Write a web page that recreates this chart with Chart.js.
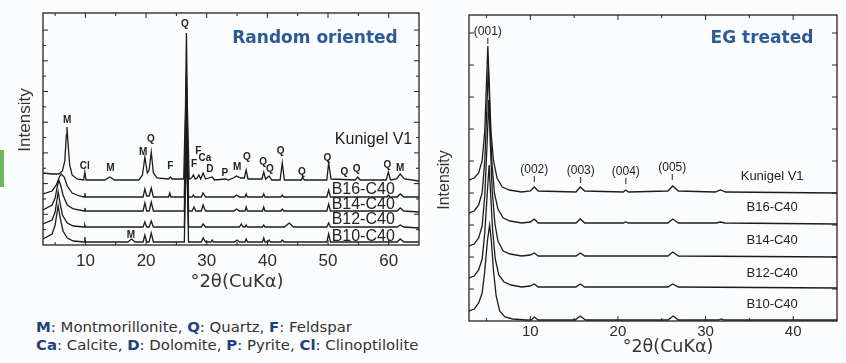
<!DOCTYPE html>
<html lang="en">
<head>
<meta charset="UTF-8">
<title>XRD patterns - random oriented / EG treated</title>
<style>
  body {
    margin: 0;
    width: 846px;
    height: 363px;
    overflow: hidden;
    position: relative;
    background: #fbfcfd;
    font-family: Arial, "Liberation Sans", sans-serif;
  }
  canvas { position: absolute; top: 0; }
  #randomChart { left: 0; }
  #egChart { left: 430px; }
  .note {
    position: absolute;
    left: 36px;
    top: 318px;
    font: 14.9px "DejaVu Sans", sans-serif;
    line-height: 18px;
    color: #333;
    white-space: nowrap;
  }
  .note b { color: #22407a; }
  .tab {
    position: absolute;
    left: 0;
    top: 150px;
    width: 4px;
    height: 37px;
    background: #6cb95a;
  }
</style>
</head>
<body>
<canvas id="randomChart" width="430" height="300"></canvas>
<canvas id="egChart" width="416" height="363"></canvas>
<div class="tab"></div>
<div class="note">
  <b>M</b>: Montmorillonite, <b>Q</b>: Quartz, <b>F</b>: Feldspar<br>
  <b>Ca</b>: Calcite, <b>D</b>: Dolomite, <b>P</b>: Pyrite, <b>Cl</b>: Clinoptilolite
</div>

<script src="https://cdn.jsdelivr.net/npm/chart.js"></script>
<script>
// sample names, top trace first
const sampleNames = ['Kunigel V1', 'B16-C40', 'B14-C40', 'B12-C40', 'B10-C40'];

// x axis tick labels (deg 2theta)
const randomXTicks = [10, 20, 30, 40, 50, 60];
const egXTicks = [10, 20, 30, 40];

// random oriented patterns: [2theta, stacked intensity]
const randomKunigel = [[3,72],[4.5,71],[5.6,71],[6.2,74],[6.6,84],[6.85,110],[6.95,118],[7.1,104],[7.4,80],[7.8,70],[8.6,66],
  [9.7,65],[9.9,73],[10.1,65],[13.2,65],[14.0,68],[14.8,65],[18.8,65],[19.4,70],[19.8,88],[20.2,72],[20.5,75],[20.85,93],
  [21.2,72],[21.8,67],[23.7,66],[24.0,68],[24.3,66],[26.2,66],[26.5,140],[26.65,212],[26.8,140],[27.1,66],[27.5,67],
  [27.8,70],[28.1,66],[28.4,67],[28.7,70],[29.0,66],[29.4,72],[29.8,66],[30.9,68],[31.3,65],[33.1,66],[33.5,65],[34.4,67],
  [34.9,69],[35.6,67],[36.2,67],[36.5,75],[36.8,66],[39.1,66],[39.4,73],[39.7,66],[40.3,69],[40.7,65],[42.1,65],[42.45,82],
  [42.8,65],[45.6,65],[45.8,68],[46.1,65],[49.8,65],[50.1,82],[50.5,66],[54.5,65],[54.9,68],[55.3,65],[59.6,65],[59.95,73],
  [60.3,65],[61.3,66],[61.9,71],[62.6,66],[65,64]];
const randomB16 = [[3,51],[4.5,54],[5.2,60],[5.7,68],[6.0,71],[6.5,68],[7.0,59],[7.8,52],[9,49],[9.8,48],[9.9,52],[10.0,48],
  [19.5,48],[19.8,56],[20.1,49],[20.5,49],[20.85,57],[21.2,48],[23.7,48],[23.9,52],[24.1,48],[26.3,48],[26.5,120],[26.65,170],
  [26.8,120],[27.0,48],[27.6,48],[27.8,50],[28.0,48],[29.1,48],[29.4,52],[29.8,48],[34.5,48],[34.9,50],[35.4,48],[36.3,48],
  [36.5,51],[36.7,48],[39.2,48],[39.4,51],[39.6,48],[42.2,48],[42.45,50],[42.7,48],[49.8,48],[50.1,55],[50.4,48],[59.7,48],
  [59.95,50],[60.2,48],[61.4,48],[61.9,51],[62.5,48],[65,48]];
const randomB14 = [[3,35],[4.5,40],[5.0,47],[5.35,58],[5.6,65],[5.9,60],[6.3,50],[7.0,40],[8,36],[9.8,34],[9.9,37],[10.0,34],
  [19.5,34],[19.8,42],[20.1,34],[20.5,34],[20.85,43],[21.2,34],[26.3,34],[26.5,100],[26.65,140],[26.8,100],[27.0,34],[27.6,34],
  [27.9,38],[28.2,34],[29.1,34],[29.4,40],[29.8,34],[34.5,34],[34.9,36],[35.4,34],[36.3,34],[36.5,38],[36.7,34],[39.2,34],
  [39.4,38],[39.6,34],[42.2,34],[42.45,36],[42.7,34],[49.8,34],[50.1,41],[50.4,34],[61.4,34],[61.9,37],[62.5,34],[65,33]];
const randomB12 = [[3,21],[4.5,25],[5.0,33],[5.3,45],[5.5,53],[5.8,42],[6.2,30],[7,22],[8,19],[9.8,18],[9.9,20],[10,18],
  [19.5,18],[19.8,23],[20.1,18],[20.5,18],[20.85,24],[21.2,18],[26.3,18],[26.5,80],[26.65,110],[26.8,80],[27.0,18],[29.1,18],
  [29.4,21],[29.8,18],[35.4,18],[35.7,21],[36.0,18],[36.3,18],[36.5,20],[36.7,18],[39.2,18],[39.4,20],[39.6,18],[42.8,18],
  [43.6,22],[44.3,18],[49.8,18],[50.1,22],[50.4,18],[61.4,18],[61.9,20],[62.5,18],[65,17]];
const randomB10 = [[3,6],[4.5,11],[5.0,20],[5.3,32],[5.5,39],[5.8,28],[6.3,14],[7.0,7],[8,4],[9.8,3],[9.9,8],[10,3],
  [17.0,3],[17.6,6],[18.2,3],[19.5,3],[19.8,10],[20.1,3],[20.5,3],[20.85,12],[21.2,3],[26.3,3],[26.5,60],[26.65,90],[26.8,60],
  [27.0,3],[29.1,3],[29.4,7],[29.8,3],[30.7,3],[30.9,5],[31.1,3],[34.6,3],[35.0,5],[35.4,3],[36.3,3],[36.5,6],[36.7,3],
  [39.2,3],[39.4,7],[39.6,3],[40.1,3],[40.3,5],[40.5,3],[42.2,3],[42.45,5],[42.7,3],[49.8,3],[50.1,11],[50.4,3],[61.4,3],
  [61.9,6],[62.5,3],[65,3]];

// EG treated patterns
const egKunigel = [[3,141],[3.6,143],[4.1,148],[4.5,160],[4.8,190],[5.0,240],[5.15,275],[5.3,240],[5.5,190],[5.8,160],
  [6.2,143],[6.8,134],[7.6,131],[9,129],[10.0,130],[10.45,134],[10.9,130],[15.2,129],[15.7,134],[16.2,130],[20.6,129],
  [20.9,131],[21.2,129],[25.7,130],[26.25,135],[26.9,130],[31.1,129],[31.7,131],[32.3,129],[45,128]];
const egB16 = [[3,108],[3.6,110],[4.1,116],[4.5,128],[4.8,160],[5.05,215],[5.2,255],[5.35,215],[5.6,160],[5.9,128],
  [6.3,112],[6.9,103],[7.7,100],[9,98],[10,99],[10.45,102],[10.9,98],[15.2,98],[15.7,102],[16.2,98],[20.6,98],[20.9,99],
  [21.2,98],[25.7,98],[26.25,102],[26.9,98],[31.2,98],[31.7,99],[32.2,98],[45,97]];
const egB14 = [[3,75],[3.6,77],[4.1,83],[4.5,95],[4.8,125],[5.1,185],[5.25,221],[5.4,185],[5.65,130],[5.95,98],[6.3,80],
  [6.9,70],[7.7,67],[9,65],[10,66],[10.45,68],[10.9,65],[15.2,65],[15.7,68],[16.2,65],[25.7,65],[26.25,69],[26.9,65],[45,64]];
const egB12 = [[3,43],[3.6,45],[4.1,51],[4.5,62],[4.8,88],[5.1,130],[5.3,156],[5.45,130],[5.7,90],[6.0,62],[6.4,46],
  [7,39],[7.8,36],[9,34],[10,35],[10.45,37],[10.9,34],[15.2,34],[15.7,37],[16.2,34],[25.7,34],[26.25,37],[26.9,34],[45,33]];
const egB10 = [[3,10],[3.6,12],[4.1,18],[4.5,28],[4.8,50],[5.1,80],[5.35,96],[5.55,80],[5.8,50],[6.1,25],[6.5,10],
  [7.1,4],[8,2],[9.5,1],[10.1,1],[10.45,4],[10.9,1],[15.1,1],[15.7,5],[16.3,1],[25.7,1],[26.3,5],[26.9,1],[31.5,1],
  [31.8,2],[32.1,1],[45,1]];

// peak labels [text, 2theta, intensity]
const randomPeakLabels = [['Q',26.4,221],['M',7.0,125],['Cl',9.9,79],['M',14.1,77],['M',19.5,93],['Q',20.8,106],
  ['F',24.0,79],['F',27.9,81],['F',28.6,94],['Ca',29.7,87],['D',30.5,76],['P',33.0,72],['M',35.0,78],['Q',36.6,88],
  ['Q',39.3,83],['Q',40.4,76],['Q',42.2,94],['Q',45.7,73],['Q',49.9,87],['Q',52.7,73],['Q',54.7,76],['Q',59.8,80],
  ['M',61.9,77],['M',17.5,10]];
const egPeakLabels = [['(001)',5.15,289],['(002)',10.45,151],['(003)',15.75,150],['(004)',20.9,149],['(005)',26.2,153]];

// where the sample names sit [2theta, intensity]
const randomNameAt = [[57.5,105],[55.8,55],[55.8,40],[55.8,25],[55.8,8]];
const egNameAt = [[37.6,145],[37.6,114],[37.6,81],[37.6,48],[37.6,17]];

const toXY = pts => pts.map(([x, y]) => ({x, y}));

const decor = {
  id: 'decor',
  afterDraw(chart, args, o) {
    const {ctx, chartArea: a, scales: {x, y}} = chart;
    const line = (x0, y0, x1, y1) => {
      ctx.beginPath(); ctx.moveTo(x0, y0); ctx.lineTo(x1, y1); ctx.stroke();
    };
    ctx.save();
    ctx.strokeStyle = '#222';
    ctx.lineWidth = 1.3;
    ctx.strokeRect(a.left, a.top, a.width, a.height);

    // inward ticks on all four sides
    ctx.lineWidth = 1;
    o.xMajor.forEach(v => {
      const px = x.getPixelForValue(v);
      line(px, a.bottom, px, a.bottom - 5);
      line(px, a.top, px, a.top + 5);
    });
    o.xMinor.forEach(v => {
      const px = x.getPixelForValue(v);
      line(px, a.bottom, px, a.bottom - 3);
      line(px, a.top, px, a.top + 3);
    });
    const half = o.yStep / (o.yMinor ? 2 : 1);
    for (let i = 1; i * half < y.max - 2; i++) {
      const py = y.getPixelForValue(i * half);
      const len = (o.yMinor && i % 2) ? 3 : 5;
      line(a.left, py, a.left + len, py);
      line(a.right, py, a.right - len, py);
    }

    // peak labels
    ctx.fillStyle = '#222';
    ctx.textAlign = 'center';
    ctx.textBaseline = 'middle';
    ctx.font = o.peakFont;
    o.peaks.forEach(([t, vx, vy]) => {
      const px = x.getPixelForValue(vx), py = y.getPixelForValue(vy);
      ctx.fillText(t, px, py);
      if (o.peakTick) line(px, py + 6, px, py + 12);
    });

    // sample names
    ctx.font = o.nameFont;
    sampleNames.forEach((t, i) => {
      const [vx, vy] = o.nameAt[i];
      ctx.fillText(t, x.getPixelForValue(vx), y.getPixelForValue(vy));
    });

    // panel title
    ctx.font = 'bold 17px "DejaVu Sans"';
    ctx.fillStyle = '#2d5a98';
    ctx.fillText(o.title, o.titleAt[0], o.titleAt[1]);

    // axis titles
    ctx.fillStyle = '#333';
    ctx.font = o.xTitleFont;
    ctx.fillText('°2θ(CuKα)', o.xTitleAt[0], o.xTitleAt[1]);
    ctx.font = o.yTitleFont;
    ctx.translate(o.yTitleAt[0], o.yTitleAt[1]);
    ctx.rotate(-Math.PI / 2);
    ctx.fillText('Intensity', 0, 0);
    ctx.restore();
  }
};

function makeChart(id, series, cfg) {
  return new Chart(document.getElementById(id), {
    type: 'line',
    data: {
      datasets: series.map((pts, i) => ({
        label: sampleNames[i],
        data: toXY(pts),
        borderColor: '#1c1c1c',
        borderWidth: 1.3,
        pointRadius: 0,
        tension: 0,
        fill: false
      }))
    },
    options: {
      responsive: false,
      animation: false,
      layout: {padding: cfg.padding},
      plugins: {
        legend: {display: false},
        tooltip: {enabled: false},
        decor: cfg.decor
      },
      scales: {
        x: {
          type: 'linear',
          min: cfg.xMin,
          max: cfg.xMax,
          afterBuildTicks: s => { s.ticks = cfg.xTicks.map(v => ({value: v})); },
          afterFit: s => { s.height = cfg.xHeight; },
          grid: {display: false, drawTicks: false},
          border: {display: false},
          ticks: {
            autoSkip: false,
            maxRotation: 0,
            padding: cfg.tickPad,
            color: '#2b2b2b',
            font: {family: 'Arial', size: cfg.tickSize}
          }
        },
        y: {display: false, min: 0, max: cfg.yMax}
      }
    },
    plugins: [decor]
  });
}

makeChart('randomChart', [randomKunigel, randomB16, randomB14, randomB12, randomB10], {
  padding: {left: 43, top: 13, right: 11, bottom: 0},
  xMin: 3, xMax: 65, xTicks: randomXTicks, xHeight: 55,
  tickPad: 6, tickSize: 17, yMax: 232,
  decor: {
    xMajor: randomXTicks, xMinor: [5, 15, 25, 35, 45, 55],
    yStep: 30.7, yMinor: true,
    peaks: randomPeakLabels, peakFont: 'bold 10px Arial', peakTick: false,
    nameAt: randomNameAt, nameFont: '16px Arial',
    title: 'Random oriented', titleAt: [315, 39],
    xTitleFont: '18px "DejaVu Sans"', xTitleAt: [237, 282],
    yTitleFont: '17px Arial', yTitleAt: [25, 120]
  }
});

makeChart('egChart', [egKunigel, egB16, egB14, egB12, egB10], {
  padding: {left: 39, top: 15, right: 9, bottom: 0},
  xMin: 3, xMax: 45, xTicks: egXTicks, xHeight: 42,
  tickPad: 2, tickSize: 15, yMax: 306,
  decor: {
    xMajor: egXTicks, xMinor: [5, 15, 25, 35],
    yStep: 32, yMinor: false,
    peaks: egPeakLabels, peakFont: '12px Arial', peakTick: true,
    nameAt: egNameAt, nameFont: '13px Arial',
    title: 'EG treated', titleAt: [332, 39],
    xTitleFont: '17.5px "DejaVu Sans"', xTitleAt: [238, 347],
    yTitleFont: '16px Arial', yTitleAt: [15, 180]
  }
});
</script>
</body>
</html>
